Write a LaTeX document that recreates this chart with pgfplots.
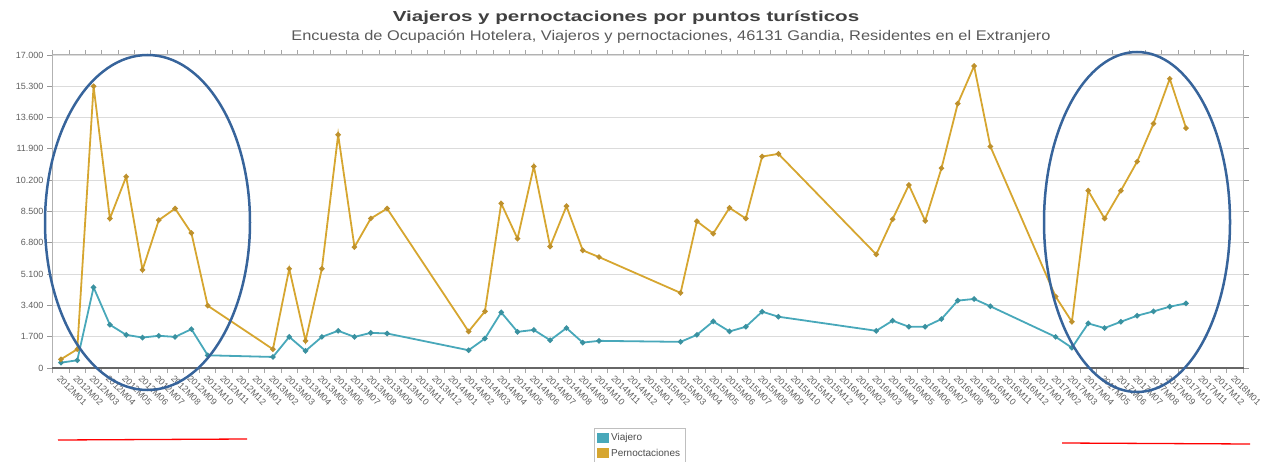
\documentclass[border=0pt]{standalone}
\usepackage{pgfplots}
\pgfplotsset{compat=1.18}
\usepackage{fontspec}
\setmainfont{Liberation Sans}
\definecolor{viaj}{RGB}{72,168,186}
\definecolor{viajdark}{RGB}{58,145,160}
\definecolor{pern}{RGB}{214,166,48}
\definecolor{perndark}{RGB}{190,145,45}
\definecolor{ellcol}{RGB}{55,100,155}
\definecolor{txtgray}{RGB}{95,95,95}
\begin{document}
\begin{tikzpicture}[x=1pt,y=1pt]
\useasboundingbox (0,0) rectangle (1263,461);
\node[font=\fontsize{14.5}{16}\selectfont\bfseries, text=black!75, xscale=1.42] at (626,443) {Viajeros y pernoctaciones por puntos turísticos};
\node[font=\fontsize{14}{16}\selectfont, text=black!65, xscale=1.17] at (671,424) {Encuesta de Ocupación Hotelera, Viajeros y pernoctaciones, 46131 Gandia, Residentes en el Extranjero};
\begin{axis}[
  at={(52pt,93pt)}, anchor=south west, scale only axis,
  width=1192pt, height=313pt,
  xmin=-0.55, xmax=72.55, ymin=0, ymax=17000,
  scaled y ticks=false,
  axis line style={draw=black!30, line width=1pt},
  ymajorgrids, grid style={draw=black!14, line width=1.2pt},
  ytick={0,1700,3400,5100,6800,8500,10200,11900,13600,15300,17000},
  yticklabels={0,1.700,3.400,5.100,6.800,8.500,10.200,11.900,13.600,15.300,17.000},
  yticklabel style={font=\fontsize{9}{10}\selectfont, text=txtgray},
  ytick style={draw=black!40, line width=0.8pt},
  tick align=outside, major tick length=5pt,
  xtick={0,...,72},
  xtick style={draw=none},
  minor xtick={-0.5,0.5,...,72.5},
  minor x tick style={draw=black!35, line width=0.8pt},
  minor tick length=5pt,
  xticklabels={2012M01,2012M02,2012M03,2012M04,2012M05,2012M06,2012M07,2012M08,2012M09,2012M10,2012M11,2012M12,
  2013M01,2013M02,2013M03,2013M04,2013M05,2013M06,2013M07,2013M08,2013M09,2013M10,2013M11,2013M12,
  2014M01,2014M02,2014M03,2014M04,2014M05,2014M06,2014M07,2014M08,2014M09,2014M10,2014M11,2014M12,
  2015M01,2015M02,2015M03,2015M04,2015M05,2015M06,2015M07,2015M08,2015M09,2015M10,2015M11,2015M12,
  2016M01,2016M02,2016M03,2016M04,2016M05,2016M06,2016M07,2016M08,2016M09,2016M10,2016M11,2016M12,
  2017M01,2017M02,2017M03,2017M04,2017M05,2017M06,2017M07,2017M08,2017M09,2017M10,2017M11,2017M12,
  2018M01},
  xticklabel style={rotate=-45, anchor=north west, font=\fontsize{9}{10}\selectfont, text=txtgray, inner sep=1pt},
  legend style={at={(0.4547,-0.1917)}, anchor=north west, draw=black!25, fill=white,
     font=\fontsize{10}{12}\selectfont, text=black!70, inner sep=3pt, row sep=3pt},
  legend cell align=left,
  legend image code/.code={\fill[#1, draw=none] (0pt,-5pt) rectangle (12pt,5pt);},
]
\addplot[color=viaj, line width=1.8pt, mark=*, mark size=1.7pt, mark options={fill=viajdark, draw=viajdark}] coordinates {
(0,290)(1,420)(2,4380)(3,2350)(4,1800)(5,1655)(6,1750)(7,1690)(8,2110)(9,690)
(13,600)(14,1690)(15,930)(16,1690)(17,2020)(18,1690)(19,1910)(20,1875)
(25,965)(26,1600)(27,3020)(28,1965)(29,2070)(30,1510)(31,2170)(32,1380)(33,1475)
(38,1420)(39,1800)(40,2530)(41,1985)(42,2240)(43,3060)(44,2785)
(50,2020)(51,2570)(52,2240)(53,2240)(54,2660)(55,3660)(56,3750)(57,3350)
(61,1690)(62,1100)(63,2420)(64,2170)(65,2510)(66,2840)(67,3075)(68,3330)(69,3510)
};
\addlegendentry{Viajero}
\addplot[color=pern, line width=1.8pt, mark=*, mark size=1.7pt, mark options={fill=perndark, draw=perndark}] coordinates {
(0,475)(1,1020)(2,15300)(3,8120)(4,10390)(5,5330)(6,8030)(7,8660)(8,7330)(9,3385)
(13,1020)(14,5390)(15,1475)(16,5390)(17,12670)(18,6570)(19,8120)(20,8660)
(25,1985)(26,3075)(27,8935)(28,7025)(29,10950)(30,6600)(31,8790)(32,6390)(33,6025)
(38,4080)(39,7970)(40,7300)(41,8700)(42,8120)(43,11485)(44,11630)
(50,6170)(51,8080)(52,9940)(53,7990)(54,10850)(55,14360)(56,16400)(57,12030)
(61,3880)(62,2510)(63,9630)(64,8120)(65,9630)(66,11210)(67,13270)(68,15710)(69,13030)
};
\addlegendentry{Pernoctaciones}
\draw[black!60, line width=1.8pt] (rel axis cs:0,0) -- (rel axis cs:1,0);
\end{axis}
\draw[ellcol, line width=2.5pt] (147.5,238.5) ellipse [x radius=102.5, y radius=167.5];
\draw[ellcol, line width=2.5pt] (1137,239) ellipse [x radius=93, y radius=170];
\draw[red, line width=1.3pt] (58,21) -- (247,22);
\draw[red, line width=1.3pt] (1062,18) -- (1250,17);
\end{tikzpicture}
\end{document}
